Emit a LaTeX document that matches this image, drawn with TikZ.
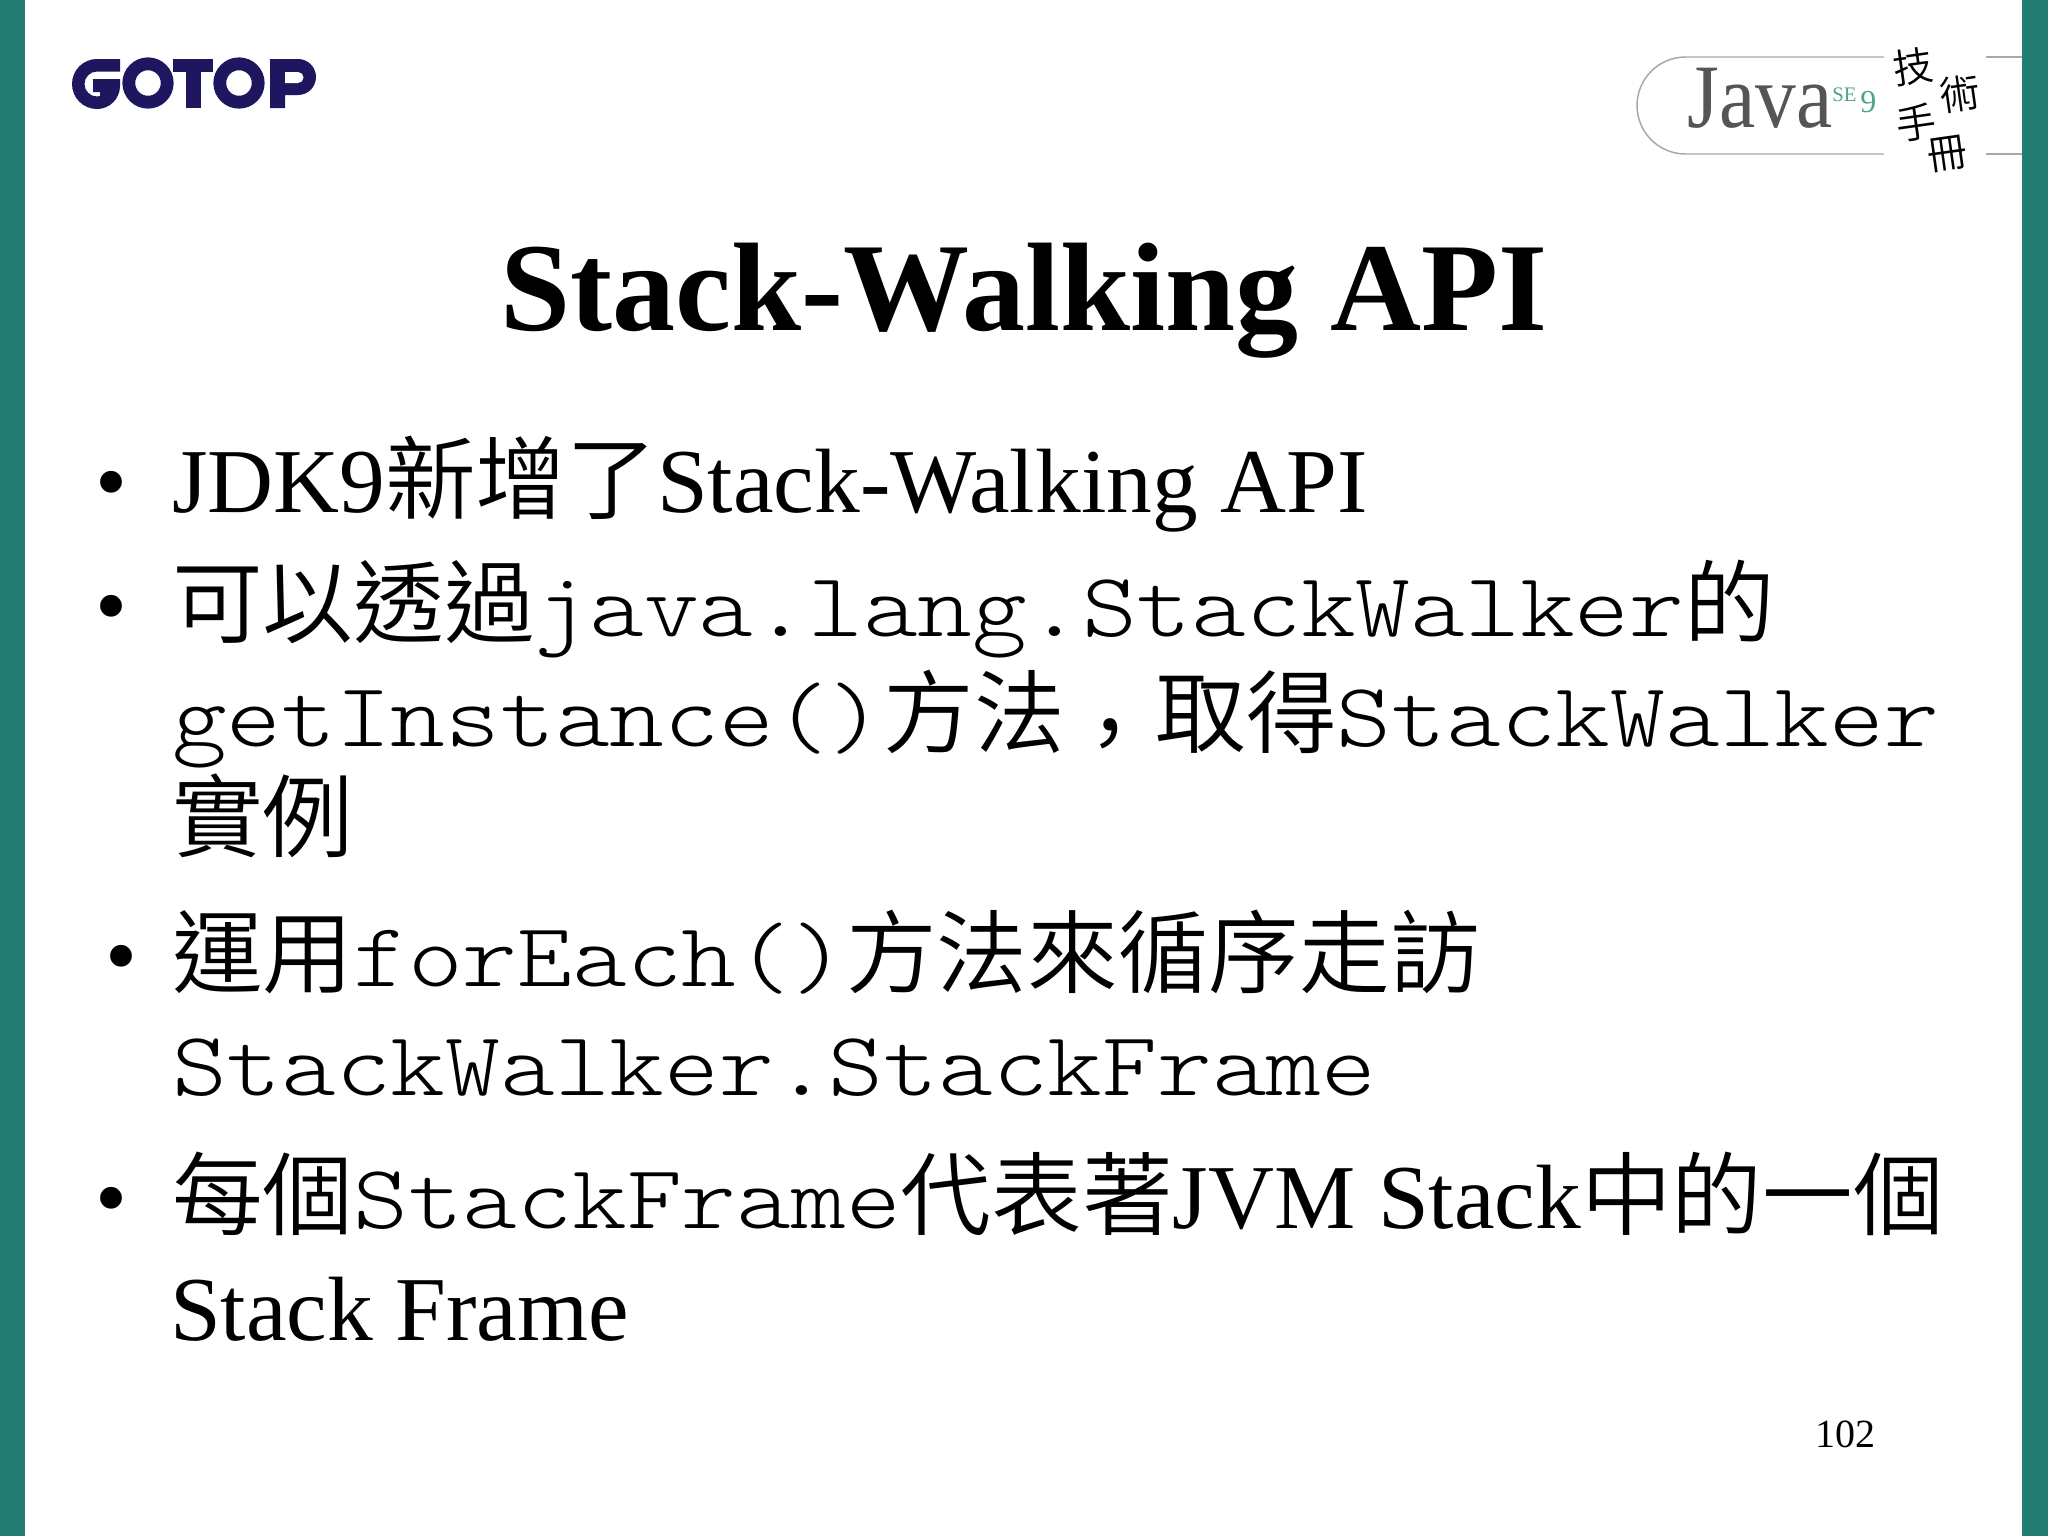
\documentclass[tikz,border=0pt]{standalone}
\usepackage{fontspec}
\setmainfont{Liberation Serif}
\setmonofont[FakeStretch=1.145]{Latin Modern Mono Light}
\newfontfamily\cjk{Noto Sans CJK TC DemiLight}
\definecolor{barteal}{HTML}{237D70}
\definecolor{gotopblue}{HTML}{1F1660}
\definecolor{javagray}{HTML}{555555}
\definecolor{ruleg}{HTML}{A8A8A8}
\definecolor{segreen}{HTML}{4FA48F}
\newcommand{\Z}[1]{{\cjk\fontsize{68}{68}\selectfont #1}}
\newcommand{\M}[1]{{\ttfamily\fontsize{68.3}{68.3}\selectfont #1}}
\tikzset{
 x=0.75pt,y=-0.75pt,
 txt/.style={anchor=base west,inner sep=0pt,outer sep=0pt,font=\fontsize{68.5}{68.5}\selectfont},
 bullet/.style={anchor=base west,inner sep=0pt,outer sep=0pt,font=\fontsize{68.5}{68.5}\selectfont},
 titletxt/.style={anchor=base,inner sep=0pt,outer sep=0pt,font=\bfseries\fontsize{94.5}{94.5}\selectfont},
 hand/.style={inner sep=0pt,outer sep=0pt,text=black,rotate=8,font=\cjk\fontsize{30}{30}\selectfont},
}
\begin{document}
\begin{tikzpicture}
\useasboundingbox (0,0) rectangle (2048,1536);
\fill[white] (0,0) rectangle (2048,1536);
\fill[barteal] (0,0) rectangle (25,1536);
\fill[barteal] (2022,0) rectangle (2048,1536);
% GOTOP logo
\draw[gotopblue,line width=9.6pt] (148,83) circle[radius=19.2];
\fill[gotopblue] (173,59) rectangle (213,72);
\fill[gotopblue] (186,59) rectangle (201,108);
\draw[gotopblue,line width=9.6pt] (239,83) circle[radius=19.2];
\fill[gotopblue] (270,59) -- (298,59) arc[start angle=270,end angle=450,radius=18] -- (285,95) -- (285,108) -- (270,108) -- cycle;
\fill[white] (285,72) -- (298,72) arc[start angle=270,end angle=450,radius=5.5] -- (285,83) -- cycle;
\fill[gotopblue] (120,59) -- (97,59) arc[start angle=270,end angle=90,radius=25] arc[start angle=90,end angle=0,radius=23] -- (120,79) -- (93,79) -- (93,92) -- (100,92) -- (100,96) -- (97,96.5) arc[start angle=90,end angle=270,radius=12.5] -- (120,71.5) -- cycle;
% Java logo
\draw[ruleg,line width=1.1pt] (1884,57) -- (1685.5,57) arc[start angle=270,end angle=90,radius=48.5] -- (1884,154);
\draw[ruleg,line width=1.1pt] (1986,57) -- (2022,57);
\draw[ruleg,line width=1.1pt] (1986,154) -- (2022,154);
\node[anchor=base west,inner sep=0pt,text=javagray,xscale=0.9,font=\fontsize{68}{68}\selectfont] (java) at (1687,127) {Java};
\node[anchor=base west,inner sep=0pt,text=segreen,font=\fontsize{15.5}{15.5}\selectfont] (se) at (1832,101) {SE};
\node[anchor=base west,inner sep=0pt,text=segreen,font=\fontsize{24}{24}\selectfont] (nine) at (1860,112) {9};
\node[hand] (hand1) at (1913,67) {技};
\node[hand] (hand2) at (1960,94) {術};
\node[hand] (hand3) at (1916,123) {手};
\node[hand] (hand4) at (1947,154) {冊};
% title
\node[titletxt] (title) at (1024,330) {Stack-Walking API};
% body
\node[bullet] (b1) at (95,512) {•};
\node[txt] (l1) at (172,512) {JDK9\Z{新增了}Stack-Walking API};
\node[bullet] (b2) at (95,636) {•};
\node[txt] (l2) at (172,636) {\Z{可以透過}\M{java.lang.StackWalker}\Z{的}};
\node[txt] (l3) at (172,746) {\M{getInstance()}\Z{方法\raisebox{-15pt}{，}取得}\M{StackWalker}};
\node[txt] (l4) at (172,850) {\Z{實例}};
\node[bullet] (b3) at (105,986) {•};
\node[txt] (l5) at (172,986) {\Z{運用}\M{forEach()}\Z{方法來循序走訪}};
\node[txt] (l6) at (172,1095) {\M{StackWalker.StackFrame}};
\node[bullet] (b4) at (95,1228) {•};
\node[txt] (l7) at (172,1228) {\Z{每個}\M{StackFrame}\Z{代表著}JVM Stack\Z{中的一個}};
\node[txt] (l8) at (170,1340) {Stack Frame};
\node[anchor=base west,inner sep=0pt,font=\fontsize{30}{30}\selectfont] (page) at (1815,1447) {102};
\end{tikzpicture}
\end{document}
